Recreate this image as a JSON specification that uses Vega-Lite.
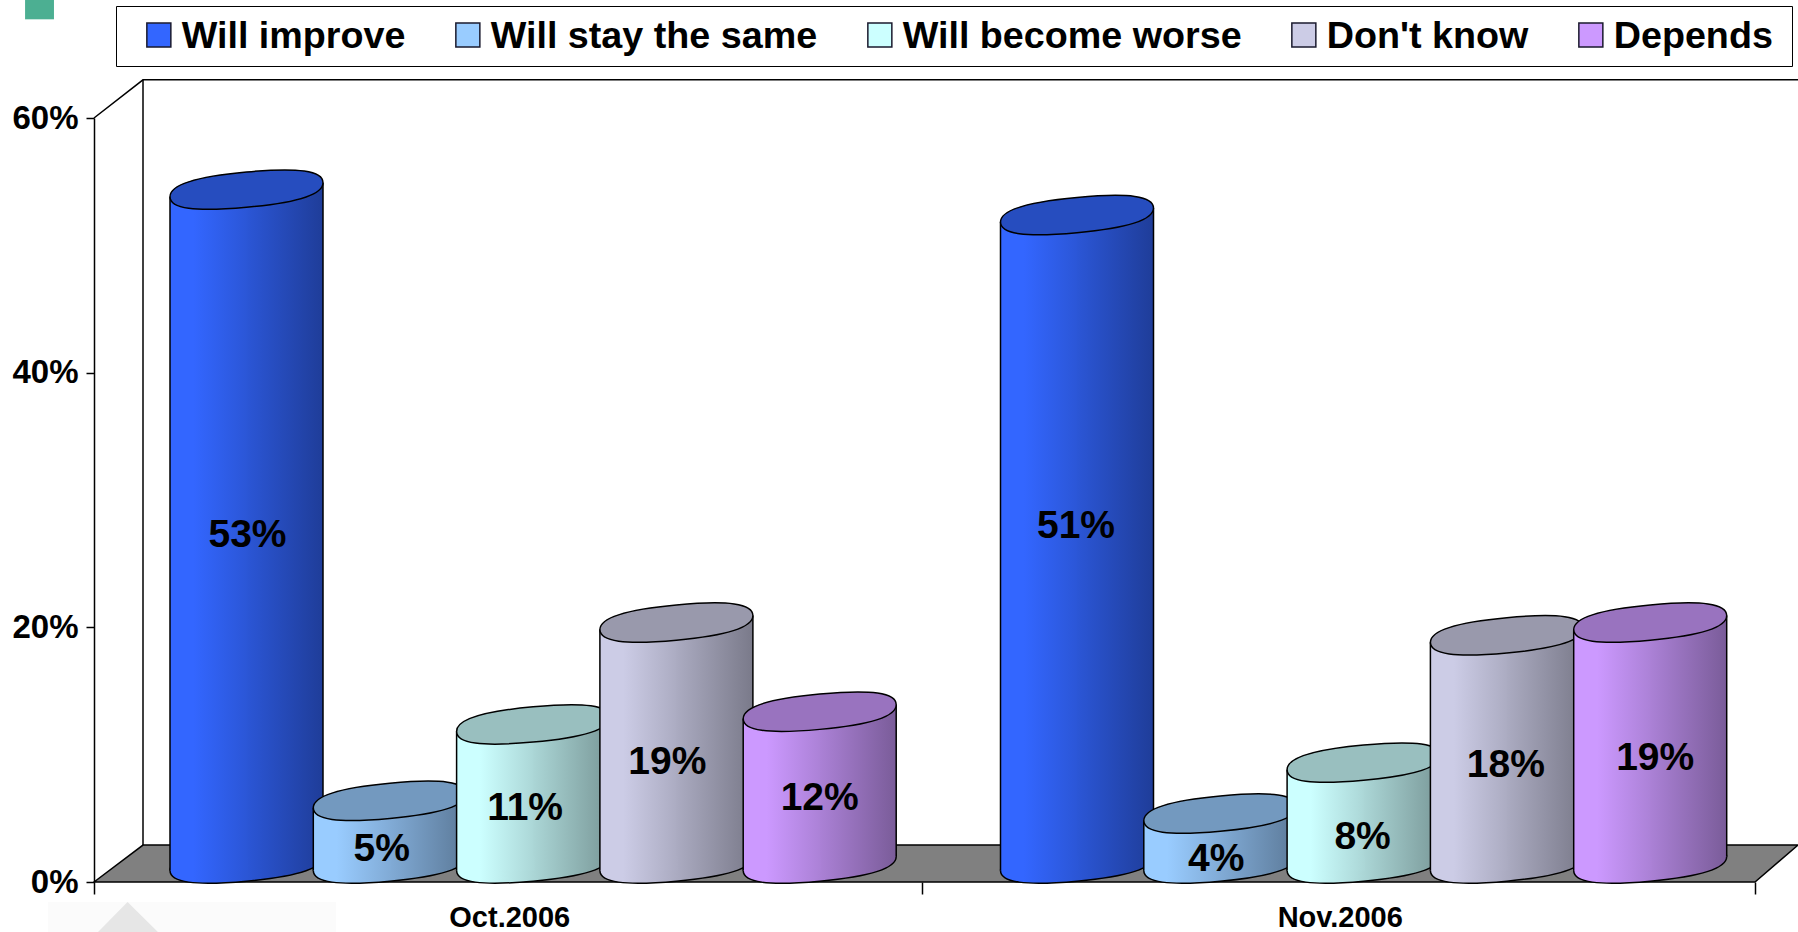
{"$schema":"https://vega.github.io/schema/vega-lite/v6.json","width":1661,"height":764,"autosize":{"type":"none"},"padding":{"left":94,"top":118,"right":43,"bottom":50},"background":"#ffffff","config":{"view":{"stroke":null},"font":"Liberation Sans"},
"datasets":{"bars":[
{"period":"Oct.2006","series":"Will improve","value":53,"label":"53%"},{"period":"Oct.2006","series":"Will stay the same","value":5,"label":"5%"},{"period":"Oct.2006","series":"Will become worse","value":11,"label":"11%"},{"period":"Oct.2006","series":"Don't know","value":19,"label":"19%"},{"period":"Oct.2006","series":"Depends","value":12,"label":"12%"},
{"period":"Nov.2006","series":"Will improve","value":51,"label":"51%"},{"period":"Nov.2006","series":"Will stay the same","value":4,"label":"4%"},{"period":"Nov.2006","series":"Will become worse","value":8,"label":"8%"},{"period":"Nov.2006","series":"Don't know","value":18,"label":"18%"},{"period":"Nov.2006","series":"Depends","value":19,"label":"19%"}],
"floor":[{"f":0,"a":0,"b":0},{"f":0.0295,"a":2.9,"b":0},{"f":1,"a":2.9,"b":0},{"f":1.0259,"a":2.9,"b":2.9}],
"wall":[{"part":"top","i":1,"f":0,"v":60},{"part":"top","i":2,"f":0.0295,"v":63},{"part":"top","i":3,"f":1.0259,"v":63},{"part":"back","i":1,"f":0.0295,"v":63},{"part":"back","i":2,"f":0.0295,"v":2.9}],
"tri":[{"f":0.0024,"a":-3.93,"b":-3.93},{"f":0.0202,"a":-1.57,"b":-3.93},{"f":0.0385,"a":-3.93,"b":-3.93}]},
"resolve":{"scale":{"x":"independent"},"axis":{"x":"independent","y":"independent"}},
"layer":[
{"data":{"values":[{"f":-0.0415,"f2":-0.0241,"a":69.3,"b":67.75}]},"mark":{"type":"rect","fill":"#4CAF92"},"encoding":{"x":{"field":"f","type":"quantitative","scale":{"domain":[0,1],"nice":false,"zero":false},"axis":null},"x2":{"field":"f2"},"y":{"field":"a","type":"quantitative","scale":{"domain":[0,60],"nice":false},"axis":{"orient":"left","values":[0,20,40,60],"labelExpr":"datum.value+'%'","title":null,"grid":false,"domainColor":"#000","domainWidth":1.5,"tickColor":"#000","tickWidth":1.5,"tickSize":8,"labelPadding":8,"labelFont":"Liberation Sans","labelFontWeight":"bold","labelFontSize":33,"labelColor":"#000"}},"y2":{"field":"b"}}},
{"data":{"values":[{"f":-0.0277,"f2":0.1457,"a":-1.57,"b":-3.93}]},"mark":{"type":"rect","fill":"#FBFBFB"},"encoding":{"x":{"field":"f","type":"quantitative","scale":{"domain":[0,1],"nice":false,"zero":false},"axis":null},"x2":{"field":"f2"},"y":{"field":"a","type":"quantitative","scale":{"domain":[0,60],"nice":false},"axis":null},"y2":{"field":"b"}}},
{"data":{"name":"tri"},"mark":{"type":"area","fill":"#E6E6E6"},"encoding":{"x":{"field":"f","type":"quantitative","scale":{"domain":[0,1],"nice":false,"zero":false},"axis":null},"y":{"field":"a","type":"quantitative","scale":{"domain":[0,60],"nice":false},"axis":null},"y2":{"field":"b"}}},
{"data":{"name":"floor"},"mark":{"type":"area","fill":"#808080","stroke":"#000","strokeWidth":1.5},"encoding":{"x":{"field":"f","type":"quantitative","scale":{"domain":[0,1],"nice":false,"zero":false},"axis":{"orient":"bottom","values":[0,0.4985,1],"labels":false,"title":null,"domain":false,"grid":false,"tickColor":"#000","tickSize":12,"tickWidth":1.5}},"y":{"field":"a","type":"quantitative","scale":{"domain":[0,60],"nice":false},"axis":null},"y2":{"field":"b"}}},
{"data":{"name":"wall"},"mark":{"type":"line","stroke":"#000","strokeWidth":1.5},"encoding":{"x":{"field":"f","type":"quantitative","scale":{"domain":[0,1],"nice":false,"zero":false},"axis":null},"y":{"field":"v","type":"quantitative","scale":{"domain":[0,60],"nice":false},"axis":null},"detail":{"field":"part"},"order":{"field":"i"}}},
{"data":{"name":"bars"},"mark":{"type":"point","filled":true,"size":0},"encoding":{"x":{"field":"period","type":"nominal","sort":["Oct.2006","Nov.2006"],"scale":{"paddingInner":0,"paddingOuter":0},"axis":{"orient":"bottom","title":null,"labelAngle":0,"ticks":false,"domain":false,"labelPadding":21,"labelFont":"Liberation Sans","labelFontWeight":"bold","labelFontSize":29,"labelColor":"#000"}},"y":{"field":"value","type":"quantitative","scale":{"domain":[0,60],"nice":false},"axis":null},"color":{"field":"series","type":"nominal","scale":{"domain":["Will improve","Will stay the same","Will become worse","Don't know","Depends"],"range":["#3366FF","#99CCFF","#CCFFFF","#CCCCE6","#CC99FF"]},"legend":{"title":"\u00a0","titleOrient":"right","titlePadding":9,"titleFontSize":2,"orient":"none","legendX":22,"legendY":-112,"direction":"horizontal","columns":5,"symbolType":"square","symbolSize":576,"symbolOpacity":1,"symbolOffset":14,"symbolStrokeColor":"#1a1a2e","symbolStrokeWidth":1.5,"labelOffset":4,"labelFont":"Liberation Sans","labelFontWeight":"bold","labelFontSize":37.7,"labelColor":"#000","labelLimit":500,"labelExpr":"datum.label+'\u2002'","columnPadding":29,"padding":10,"fillColor":"#fff","strokeColor":"#000","encode":{"labels":{"update":{"dy":{"value":2}}}}}}}},

{"data":{"name":"bars"},"transform":[{"filter":"datum.series=='Will improve'"}],
"encoding":{"x":{"field":"period","type":"nominal","sort":["Oct.2006","Nov.2006"],"scale":{"paddingInner":0,"paddingOuter":0},"axis":null},"y":{"field":"value","type":"quantitative","scale":{"domain":[0,60],"nice":false},"axis":null}},
"layer":[
{"mark":{"type":"point","filled":true,"size":23409,"opacity":1,"stroke":"#000","strokeWidth":1.5,"xOffset":-262.75,"yOffset":-18.5,"shape":"M1,-0.0915C1,0.0656,0.68,0.1688,0,0.231C-0.68,0.2932,-1,0.2486,-1,0.0915C-1,-0.0656,-0.68,-0.1688,0,-0.231C0.68,-0.2932,1,-0.2486,1,-0.0915Z","fill":{"gradient":"linear","x1":0,"y1":0,"x2":1,"y2":0,"stops":[{"offset":0,"color":"#3366FF"},{"offset":0.15,"color":"#3366FF"},{"offset":0.5,"color":"#2B56D6"},{"offset":1,"color":"#1F3D99"}]}},"encoding":{"y":{"datum":0,"type":"quantitative","scale":{"domain":[0,60],"nice":false},"axis":null}}},
{"mark":{"type":"bar","width":78,"xOffset":-300.25,"yOffset":-10.5,"y2Offset":-11.5,"fill":{"gradient":"linear","x1":0,"y1":0,"x2":1,"y2":0,"stops":[{"offset":0,"color":"#3366FF"},{"offset":0.3,"color":"#3366FF"},{"offset":1,"color":"#2B56D6"}]}},"encoding":{"y2":{"datum":0}}},
{"mark":{"type":"bar","width":76.5,"xOffset":-224.5,"yOffset":-24.5,"y2Offset":-25.5,"fill":{"gradient":"linear","x1":0,"y1":0,"x2":1,"y2":0,"stops":[{"offset":0,"color":"#2B56D6"},{"offset":1,"color":"#1F3D99"}]}},"encoding":{"y2":{"datum":0}}},
{"mark":{"type":"bar","width":1.5,"fill":"#000","xOffset":-339.25,"yOffset":-10.5,"y2Offset":-11.5},"encoding":{"y2":{"datum":0}}},
{"mark":{"type":"bar","width":1.5,"fill":"#000","xOffset":-186.25,"yOffset":-24.5,"y2Offset":-25.5},"encoding":{"y2":{"datum":0}}},
{"mark":{"type":"point","filled":true,"size":23409,"opacity":1,"stroke":"#000","strokeWidth":1.5,"xOffset":-262.75,"yOffset":-17.5,"fill":"#264DBF","shape":"M1,-0.0915C1,0.0656,0.68,0.1688,0,0.231C-0.68,0.2932,-1,0.2486,-1,0.0915C-1,-0.0656,-0.68,-0.1688,0,-0.231C0.68,-0.2932,1,-0.2486,1,-0.0915Z"}}
]},

{"data":{"name":"bars"},"transform":[{"filter":"datum.series=='Will stay the same'"}],
"encoding":{"x":{"field":"period","type":"nominal","sort":["Oct.2006","Nov.2006"],"scale":{"paddingInner":0,"paddingOuter":0},"axis":null},"y":{"field":"value","type":"quantitative","scale":{"domain":[0,60],"nice":false},"axis":null}},
"layer":[
{"mark":{"type":"point","filled":true,"size":23409,"opacity":1,"stroke":"#000","strokeWidth":1.5,"xOffset":-119.45,"yOffset":-18.5,"shape":"M1,-0.0915C1,0.0656,0.68,0.1688,0,0.231C-0.68,0.2932,-1,0.2486,-1,0.0915C-1,-0.0656,-0.68,-0.1688,0,-0.231C0.68,-0.2932,1,-0.2486,1,-0.0915Z","fill":{"gradient":"linear","x1":0,"y1":0,"x2":1,"y2":0,"stops":[{"offset":0,"color":"#99CCFF"},{"offset":0.15,"color":"#99CCFF"},{"offset":0.5,"color":"#81ABD6"},{"offset":1,"color":"#5C7A99"}]}},"encoding":{"y":{"datum":0,"type":"quantitative","scale":{"domain":[0,60],"nice":false},"axis":null}}},
{"mark":{"type":"bar","width":78,"xOffset":-156.95,"yOffset":-10.5,"y2Offset":-11.5,"fill":{"gradient":"linear","x1":0,"y1":0,"x2":1,"y2":0,"stops":[{"offset":0,"color":"#99CCFF"},{"offset":0.3,"color":"#99CCFF"},{"offset":1,"color":"#81ABD6"}]}},"encoding":{"y2":{"datum":0}}},
{"mark":{"type":"bar","width":76.5,"xOffset":-81.2,"yOffset":-24.5,"y2Offset":-25.5,"fill":{"gradient":"linear","x1":0,"y1":0,"x2":1,"y2":0,"stops":[{"offset":0,"color":"#81ABD6"},{"offset":1,"color":"#5C7A99"}]}},"encoding":{"y2":{"datum":0}}},
{"mark":{"type":"bar","width":1.5,"fill":"#000","xOffset":-195.95,"yOffset":-10.5,"y2Offset":-11.5},"encoding":{"y2":{"datum":0}}},
{"mark":{"type":"bar","width":1.5,"fill":"#000","xOffset":-42.95,"yOffset":-24.5,"y2Offset":-25.5},"encoding":{"y2":{"datum":0}}},
{"mark":{"type":"point","filled":true,"size":23409,"opacity":1,"stroke":"#000","strokeWidth":1.5,"xOffset":-119.45,"yOffset":-17.5,"fill":"#7399BF","shape":"M1,-0.0915C1,0.0656,0.68,0.1688,0,0.231C-0.68,0.2932,-1,0.2486,-1,0.0915C-1,-0.0656,-0.68,-0.1688,0,-0.231C0.68,-0.2932,1,-0.2486,1,-0.0915Z"}}
]},

{"data":{"name":"bars"},"transform":[{"filter":"datum.series=='Will become worse'"}],
"encoding":{"x":{"field":"period","type":"nominal","sort":["Oct.2006","Nov.2006"],"scale":{"paddingInner":0,"paddingOuter":0},"axis":null},"y":{"field":"value","type":"quantitative","scale":{"domain":[0,60],"nice":false},"axis":null}},
"layer":[
{"mark":{"type":"point","filled":true,"size":23409,"opacity":1,"stroke":"#000","strokeWidth":1.5,"xOffset":23.85,"yOffset":-18.5,"shape":"M1,-0.0915C1,0.0656,0.68,0.1688,0,0.231C-0.68,0.2932,-1,0.2486,-1,0.0915C-1,-0.0656,-0.68,-0.1688,0,-0.231C0.68,-0.2932,1,-0.2486,1,-0.0915Z","fill":{"gradient":"linear","x1":0,"y1":0,"x2":1,"y2":0,"stops":[{"offset":0,"color":"#CCFFFF"},{"offset":0.15,"color":"#CCFFFF"},{"offset":0.5,"color":"#ABD6D6"},{"offset":1,"color":"#7A9999"}]}},"encoding":{"y":{"datum":0,"type":"quantitative","scale":{"domain":[0,60],"nice":false},"axis":null}}},
{"mark":{"type":"bar","width":78,"xOffset":-13.65,"yOffset":-10.5,"y2Offset":-11.5,"fill":{"gradient":"linear","x1":0,"y1":0,"x2":1,"y2":0,"stops":[{"offset":0,"color":"#CCFFFF"},{"offset":0.3,"color":"#CCFFFF"},{"offset":1,"color":"#ABD6D6"}]}},"encoding":{"y2":{"datum":0}}},
{"mark":{"type":"bar","width":76.5,"xOffset":62.1,"yOffset":-24.5,"y2Offset":-25.5,"fill":{"gradient":"linear","x1":0,"y1":0,"x2":1,"y2":0,"stops":[{"offset":0,"color":"#ABD6D6"},{"offset":1,"color":"#7A9999"}]}},"encoding":{"y2":{"datum":0}}},
{"mark":{"type":"bar","width":1.5,"fill":"#000","xOffset":-52.65,"yOffset":-10.5,"y2Offset":-11.5},"encoding":{"y2":{"datum":0}}},
{"mark":{"type":"bar","width":1.5,"fill":"#000","xOffset":100.35,"yOffset":-24.5,"y2Offset":-25.5},"encoding":{"y2":{"datum":0}}},
{"mark":{"type":"point","filled":true,"size":23409,"opacity":1,"stroke":"#000","strokeWidth":1.5,"xOffset":23.85,"yOffset":-17.5,"fill":"#99BFBF","shape":"M1,-0.0915C1,0.0656,0.68,0.1688,0,0.231C-0.68,0.2932,-1,0.2486,-1,0.0915C-1,-0.0656,-0.68,-0.1688,0,-0.231C0.68,-0.2932,1,-0.2486,1,-0.0915Z"}}
]},

{"data":{"name":"bars"},"transform":[{"filter":"datum.series==\"Don't know\""}],
"encoding":{"x":{"field":"period","type":"nominal","sort":["Oct.2006","Nov.2006"],"scale":{"paddingInner":0,"paddingOuter":0},"axis":null},"y":{"field":"value","type":"quantitative","scale":{"domain":[0,60],"nice":false},"axis":null}},
"layer":[
{"mark":{"type":"point","filled":true,"size":23409,"opacity":1,"stroke":"#000","strokeWidth":1.5,"xOffset":167.15,"yOffset":-18.5,"shape":"M1,-0.0915C1,0.0656,0.68,0.1688,0,0.231C-0.68,0.2932,-1,0.2486,-1,0.0915C-1,-0.0656,-0.68,-0.1688,0,-0.231C0.68,-0.2932,1,-0.2486,1,-0.0915Z","fill":{"gradient":"linear","x1":0,"y1":0,"x2":1,"y2":0,"stops":[{"offset":0,"color":"#CCCCE6"},{"offset":0.15,"color":"#CCCCE6"},{"offset":0.5,"color":"#ABABC1"},{"offset":1,"color":"#7A7A8A"}]}},"encoding":{"y":{"datum":0,"type":"quantitative","scale":{"domain":[0,60],"nice":false},"axis":null}}},
{"mark":{"type":"bar","width":78,"xOffset":129.65,"yOffset":-10.5,"y2Offset":-11.5,"fill":{"gradient":"linear","x1":0,"y1":0,"x2":1,"y2":0,"stops":[{"offset":0,"color":"#CCCCE6"},{"offset":0.3,"color":"#CCCCE6"},{"offset":1,"color":"#ABABC1"}]}},"encoding":{"y2":{"datum":0}}},
{"mark":{"type":"bar","width":76.5,"xOffset":205.4,"yOffset":-24.5,"y2Offset":-25.5,"fill":{"gradient":"linear","x1":0,"y1":0,"x2":1,"y2":0,"stops":[{"offset":0,"color":"#ABABC1"},{"offset":1,"color":"#7A7A8A"}]}},"encoding":{"y2":{"datum":0}}},
{"mark":{"type":"bar","width":1.5,"fill":"#000","xOffset":90.65,"yOffset":-10.5,"y2Offset":-11.5},"encoding":{"y2":{"datum":0}}},
{"mark":{"type":"bar","width":1.5,"fill":"#000","xOffset":243.65,"yOffset":-24.5,"y2Offset":-25.5},"encoding":{"y2":{"datum":0}}},
{"mark":{"type":"point","filled":true,"size":23409,"opacity":1,"stroke":"#000","strokeWidth":1.5,"xOffset":167.15,"yOffset":-17.5,"fill":"#9999AC","shape":"M1,-0.0915C1,0.0656,0.68,0.1688,0,0.231C-0.68,0.2932,-1,0.2486,-1,0.0915C-1,-0.0656,-0.68,-0.1688,0,-0.231C0.68,-0.2932,1,-0.2486,1,-0.0915Z"}}
]},

{"data":{"name":"bars"},"transform":[{"filter":"datum.series=='Depends'"}],
"encoding":{"x":{"field":"period","type":"nominal","sort":["Oct.2006","Nov.2006"],"scale":{"paddingInner":0,"paddingOuter":0},"axis":null},"y":{"field":"value","type":"quantitative","scale":{"domain":[0,60],"nice":false},"axis":null}},
"layer":[
{"mark":{"type":"point","filled":true,"size":23409,"opacity":1,"stroke":"#000","strokeWidth":1.5,"xOffset":310.45,"yOffset":-18.5,"shape":"M1,-0.0915C1,0.0656,0.68,0.1688,0,0.231C-0.68,0.2932,-1,0.2486,-1,0.0915C-1,-0.0656,-0.68,-0.1688,0,-0.231C0.68,-0.2932,1,-0.2486,1,-0.0915Z","fill":{"gradient":"linear","x1":0,"y1":0,"x2":1,"y2":0,"stops":[{"offset":0,"color":"#CC99FF"},{"offset":0.15,"color":"#CC99FF"},{"offset":0.5,"color":"#AB81D6"},{"offset":1,"color":"#7A5C99"}]}},"encoding":{"y":{"datum":0,"type":"quantitative","scale":{"domain":[0,60],"nice":false},"axis":null}}},
{"mark":{"type":"bar","width":78,"xOffset":272.95,"yOffset":-10.5,"y2Offset":-11.5,"fill":{"gradient":"linear","x1":0,"y1":0,"x2":1,"y2":0,"stops":[{"offset":0,"color":"#CC99FF"},{"offset":0.3,"color":"#CC99FF"},{"offset":1,"color":"#AB81D6"}]}},"encoding":{"y2":{"datum":0}}},
{"mark":{"type":"bar","width":76.5,"xOffset":348.7,"yOffset":-24.5,"y2Offset":-25.5,"fill":{"gradient":"linear","x1":0,"y1":0,"x2":1,"y2":0,"stops":[{"offset":0,"color":"#AB81D6"},{"offset":1,"color":"#7A5C99"}]}},"encoding":{"y2":{"datum":0}}},
{"mark":{"type":"bar","width":1.5,"fill":"#000","xOffset":233.95,"yOffset":-10.5,"y2Offset":-11.5},"encoding":{"y2":{"datum":0}}},
{"mark":{"type":"bar","width":1.5,"fill":"#000","xOffset":386.95,"yOffset":-24.5,"y2Offset":-25.5},"encoding":{"y2":{"datum":0}}},
{"mark":{"type":"point","filled":true,"size":23409,"opacity":1,"stroke":"#000","strokeWidth":1.5,"xOffset":310.45,"yOffset":-17.5,"fill":"#9973BF","shape":"M1,-0.0915C1,0.0656,0.68,0.1688,0,0.231C-0.68,0.2932,-1,0.2486,-1,0.0915C-1,-0.0656,-0.68,-0.1688,0,-0.231C0.68,-0.2932,1,-0.2486,1,-0.0915Z"}}
]},

{"data":{"name":"bars"},
"encoding":{"x":{"field":"period","type":"nominal","sort":["Oct.2006","Nov.2006"],"scale":{"paddingInner":0,"paddingOuter":0},"axis":null},"y":{"field":"value","type":"quantitative","scale":{"domain":[0,60],"nice":false},"axis":null},"text":{"field":"label"}},
"layer":[
{"transform":[{"filter":"datum.period=='Oct.2006'&&datum.series=='Will improve'"}],"mark":{"type":"text","font":"Liberation Sans","fontWeight":"bold","fontSize":39,"fill":"#000","baseline":"middle","dx":-261.75,"dy":328.2}},
{"transform":[{"filter":"datum.period=='Oct.2006'&&datum.series=='Will stay the same'"}],"mark":{"type":"text","font":"Liberation Sans","fontWeight":"bold","fontSize":39,"fill":"#000","baseline":"middle","dx":-127.45,"dy":30.2}},
{"transform":[{"filter":"datum.period=='Oct.2006'&&datum.series=='Will become worse'"}],"mark":{"type":"text","font":"Liberation Sans","fontWeight":"bold","fontSize":39,"fill":"#000","baseline":"middle","dx":15.85,"dy":66.3}},
{"transform":[{"filter":"datum.period=='Oct.2006'&&datum.series==\"Don't know\""}],"mark":{"type":"text","font":"Liberation Sans","fontWeight":"bold","fontSize":39,"fill":"#000","baseline":"middle","dx":158.15,"dy":122.3}},
{"transform":[{"filter":"datum.period=='Oct.2006'&&datum.series=='Depends'"}],"mark":{"type":"text","font":"Liberation Sans","fontWeight":"bold","fontSize":39,"fill":"#000","baseline":"middle","dx":310.45,"dy":68.3}},
{"transform":[{"filter":"datum.period=='Nov.2006'&&datum.series=='Will improve'"}],"mark":{"type":"text","font":"Liberation Sans","fontWeight":"bold","fontSize":39,"fill":"#000","baseline":"middle","dx":-263.75,"dy":293.3}},
{"transform":[{"filter":"datum.period=='Nov.2006'&&datum.series=='Will stay the same'"}],"mark":{"type":"text","font":"Liberation Sans","fontWeight":"bold","fontSize":39,"fill":"#000","baseline":"middle","dx":-123.45,"dy":28.3}},
{"transform":[{"filter":"datum.period=='Nov.2006'&&datum.series=='Will become worse'"}],"mark":{"type":"text","font":"Liberation Sans","fontWeight":"bold","fontSize":39,"fill":"#000","baseline":"middle","dx":22.85,"dy":57.3}},
{"transform":[{"filter":"datum.period=='Nov.2006'&&datum.series==\"Don't know\""}],"mark":{"type":"text","font":"Liberation Sans","fontWeight":"bold","fontSize":39,"fill":"#000","baseline":"middle","dx":166.15,"dy":112.3}},
{"transform":[{"filter":"datum.period=='Nov.2006'&&datum.series=='Depends'"}],"mark":{"type":"text","font":"Liberation Sans","fontWeight":"bold","fontSize":39,"fill":"#000","baseline":"middle","dx":315.45,"dy":118.3}}
]}
]}
